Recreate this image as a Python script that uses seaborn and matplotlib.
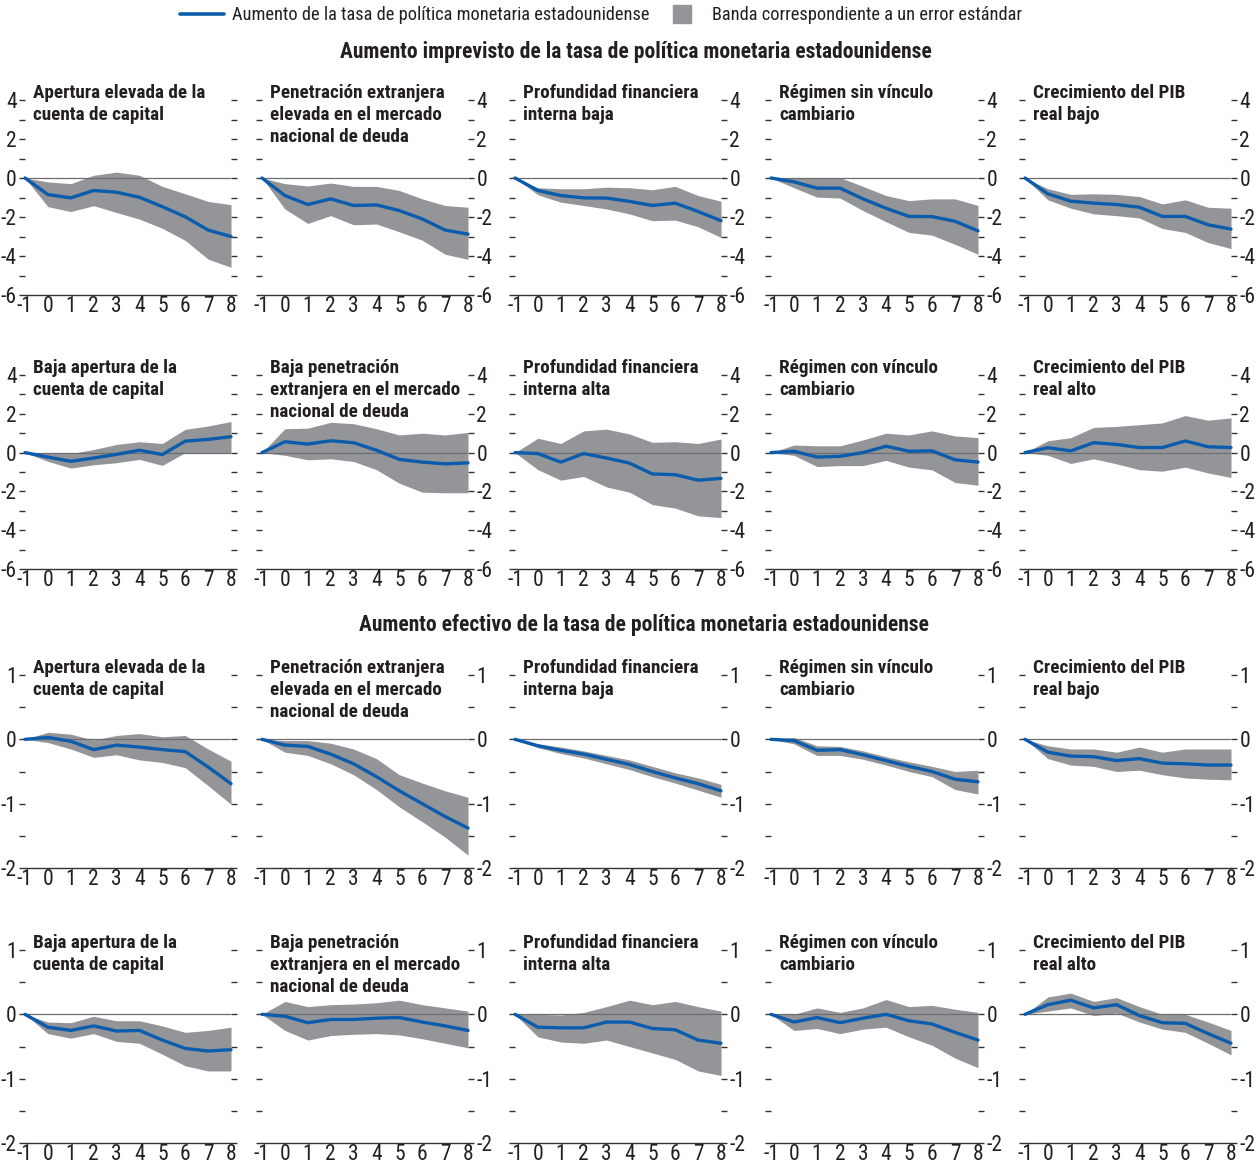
import numpy as np
import pandas as pd
import matplotlib
matplotlib.use("Agg")
import matplotlib.pyplot as plt
import matplotlib.font_manager as fm
import seaborn as sns
from matplotlib.lines import Line2D

sns.set_style("white")

# buscar una fuente condensada disponible
names = {f.name for f in fm.fontManager.ttflist}
cond = {f.name for f in fm.fontManager.ttflist if f.stretch == "condensed"}
if "Liberation Sans Narrow" in names:
    plt.rcParams['font.family'] = ['Liberation Sans Narrow', 'DejaVu Sans']
elif "Roboto Condensed" in names:
    plt.rcParams['font.family'] = ['Roboto Condensed', 'DejaVu Sans']
elif "DejaVu Sans" in cond:
    plt.rcParams['font.family'] = ['DejaVu Sans']
    plt.rcParams['font.stretch'] = 'condensed'
else:
    plt.rcParams['font.family'] = ['Liberation Sans', 'DejaVu Sans']
plt.rcParams['axes.unicode_minus'] = False

# Horizonte (trimestres)
horizons = list(range(-1, 9))

titles_top = ["Apertura elevada de la\ncuenta de capital",
              "Penetración extranjera\nelevada en el mercado\nnacional de deuda",
              "Profundidad financiera\ninterna baja",
              "Régimen sin vínculo\ncambiario",
              "Crecimiento del PIB\nreal bajo"]
titles_bottom = ["Baja apertura de la\ncuenta de capital",
                 "Baja penetración\nextranjera en el mercado\nnacional de deuda",
                 "Profundidad financiera\ninterna alta",
                 "Régimen con vínculo\ncambiario",
                 "Crecimiento del PIB\nreal alto"]

section_titles = ["Aumento imprevisto de la tasa de política monetaria estadounidense",
                  "Aumento efectivo de la tasa de política monetaria estadounidense"]

# Fila 1: aumento imprevisto, grupo 1
r1_irf = [[0, -0.85, -1.02, -0.64, -0.73, -0.99, -1.47, -1.99, -2.67, -3.0],
          [0, -0.9, -1.36, -1.07, -1.41, -1.38, -1.67, -2.1, -2.67, -2.88],
          [0, -0.64, -0.9, -1.02, -1.03, -1.2, -1.41, -1.29, -1.72, -2.19],
          [0, -0.2, -0.52, -0.52, -1.07, -1.55, -1.97, -1.98, -2.22, -2.71],
          [0, -0.81, -1.19, -1.29, -1.36, -1.5, -1.97, -1.97, -2.4, -2.62]]
r1_up = [[0, -0.2, -0.29, 0.14, 0.3, 0.14, -0.43, -0.81, -1.2, -1.37],
         [0, -0.29, -0.41, -0.26, -0.43, -0.43, -0.64, -1.07, -1.41, -1.5],
         [0, -0.5, -0.55, -0.55, -0.47, -0.5, -0.6, -0.43, -0.9, -1.19],
         [0, 0.0, 0.0, 0.02, -0.43, -0.9, -1.16, -1.07, -1.07, -1.41],
         [0, -0.55, -0.84, -0.81, -0.84, -0.95, -1.33, -1.12, -1.5, -1.55]]
r1_lo = [[0, -1.47, -1.72, -1.42, -1.77, -2.11, -2.58, -3.2, -4.16, -4.58],
         [0, -1.59, -2.33, -1.93, -2.4, -2.36, -2.76, -3.19, -3.91, -4.17],
         [0, -0.86, -1.24, -1.41, -1.59, -1.84, -2.19, -2.16, -2.5, -3.05],
         [0, -0.5, -0.98, -1.03, -1.67, -2.24, -2.79, -2.93, -3.4, -3.91],
         [0, -1.12, -1.55, -1.84, -1.93, -2.05, -2.59, -2.79, -3.31, -3.62]]

# Fila 2: aumento imprevisto, grupo 2
r2_irf = [[0, -0.23, -0.45, -0.28, -0.09, 0.12, -0.1, 0.59, 0.68, 0.82],
          [0, 0.56, 0.44, 0.61, 0.51, 0.12, -0.35, -0.49, -0.58, -0.53],
          [0, -0.05, -0.49, -0.05, -0.28, -0.54, -1.1, -1.14, -1.42, -1.33],
          [0, 0.07, -0.23, -0.19, 0.0, 0.33, 0.07, 0.09, -0.37, -0.49],
          [0, 0.25, 0.09, 0.51, 0.42, 0.26, 0.26, 0.6, 0.3, 0.26]]
r2_up = [[0, 0.0, -0.05, 0.16, 0.42, 0.56, 0.47, 1.2, 1.37, 1.6],
         [0, 1.23, 1.26, 1.56, 1.49, 1.23, 0.91, 1.0, 0.91, 1.04],
         [0, 0.74, 0.47, 1.12, 1.21, 0.96, 0.53, 0.56, 0.47, 0.7],
         [0, 0.39, 0.35, 0.35, 0.65, 1.0, 0.91, 1.12, 0.86, 0.77],
         [0, 0.61, 0.77, 1.3, 1.35, 1.44, 1.53, 1.91, 1.67, 1.79]]
r2_lo = [[0, -0.45, -0.8, -0.63, -0.52, -0.35, -0.66, 0.0, -0.03, 0.0],
         [0, -0.14, -0.37, -0.32, -0.46, -0.88, -1.58, -2.04, -2.07, -2.07],
         [0, -0.88, -1.42, -1.23, -1.77, -2.04, -2.68, -2.86, -3.26, -3.35],
         [0, -0.14, -0.72, -0.67, -0.67, -0.4, -0.75, -0.89, -1.54, -1.68],
         [0, -0.14, -0.56, -0.32, -0.58, -0.88, -0.96, -0.75, -1.05, -1.28]]

# Fila 3: aumento efectivo, grupo 1
r3_irf = [[0, 0.03, -0.03, -0.16, -0.09, -0.12, -0.16, -0.19, -0.43, -0.69],
          [0, -0.09, -0.11, -0.23, -0.38, -0.58, -0.8, -1.0, -1.2, -1.38],
          [0, -0.1, -0.17, -0.23, -0.31, -0.39, -0.5, -0.6, -0.69, -0.8],
          [0, -0.02, -0.17, -0.16, -0.24, -0.33, -0.42, -0.5, -0.62, -0.66],
          [0, -0.2, -0.26, -0.27, -0.33, -0.3, -0.37, -0.38, -0.4, -0.4]]
r3_up = [[0, 0.11, 0.08, -0.01, 0.06, 0.09, 0.04, 0.06, -0.15, -0.34],
         [0, -0.02, -0.02, -0.06, -0.15, -0.3, -0.55, -0.68, -0.8, -0.9],
         [0, -0.07, -0.12, -0.18, -0.25, -0.32, -0.42, -0.52, -0.6, -0.7],
         [0, 0.03, -0.1, -0.11, -0.18, -0.27, -0.35, -0.42, -0.5, -0.48],
         [0, -0.1, -0.15, -0.15, -0.2, -0.12, -0.2, -0.15, -0.15, -0.15]]
r3_lo = [[0, -0.05, -0.15, -0.28, -0.24, -0.32, -0.36, -0.44, -0.72, -1.01],
         [0, -0.2, -0.25, -0.38, -0.55, -0.78, -1.05, -1.28, -1.52, -1.8],
         [0, -0.13, -0.22, -0.29, -0.38, -0.47, -0.58, -0.68, -0.79, -0.9],
         [0, -0.07, -0.25, -0.25, -0.31, -0.4, -0.5, -0.58, -0.78, -0.85],
         [0, -0.3, -0.4, -0.42, -0.5, -0.48, -0.55, -0.6, -0.62, -0.63]]

# Fila 4: aumento efectivo, grupo 2
r4_irf = [[0, -0.2, -0.25, -0.18, -0.26, -0.25, -0.4, -0.53, -0.57, -0.55],
          [0, -0.03, -0.13, -0.08, -0.08, -0.06, -0.05, -0.12, -0.18, -0.25],
          [0, -0.2, -0.21, -0.21, -0.12, -0.12, -0.22, -0.24, -0.4, -0.45],
          [0, -0.12, -0.05, -0.13, -0.06, 0.0, -0.1, -0.15, -0.28, -0.4],
          [0, 0.15, 0.22, 0.1, 0.15, -0.02, -0.13, -0.14, -0.3, -0.45]]
r4_up = [[0, -0.12, -0.13, -0.03, -0.1, -0.1, -0.18, -0.28, -0.25, -0.2],
         [0, 0.2, 0.12, 0.15, 0.16, 0.18, 0.22, 0.15, 0.1, 0.05],
         [0, 0.0, -0.01, 0.03, 0.12, 0.22, 0.15, 0.2, 0.12, 0.05],
         [0, 0.0, 0.1, 0.03, 0.1, 0.23, 0.12, 0.14, 0.08, 0.03],
         [0, 0.27, 0.33, 0.2, 0.26, 0.12, 0.0, 0.0, -0.12, -0.25]]
r4_lo = [[0, -0.3, -0.37, -0.3, -0.42, -0.45, -0.62, -0.8, -0.88, -0.88],
         [0, -0.25, -0.4, -0.33, -0.31, -0.3, -0.32, -0.38, -0.45, -0.52],
         [0, -0.35, -0.43, -0.45, -0.4, -0.5, -0.6, -0.7, -0.88, -0.95],
         [0, -0.25, -0.22, -0.3, -0.23, -0.2, -0.35, -0.48, -0.68, -0.83],
         [0, 0.05, 0.1, -0.02, 0.02, -0.12, -0.23, -0.28, -0.45, -0.63]]

legend_labels = ["Aumento de la tasa de política monetaria estadounidense",
                 "Banda correspondiente a un error estándar"]

blue = "#0b5cad"
band = "#939598"
ink = "#231f20"

W, H = 1258, 1164
fig = plt.figure(figsize=(W / 100, H / 100), dpi=100)

col_px = [(25, 231), (262, 468), (515, 721), (771, 978), (1025, 1231)]
row_px = [(100, 295), (375, 569), (675, 868), (950, 1143)]

rows = [(r1_irf, r1_up, r1_lo, titles_top, (-6, 4), 2),
        (r2_irf, r2_up, r2_lo, titles_bottom, (-6, 4), 2),
        (r3_irf, r3_up, r3_lo, titles_top, (-2, 1), 1),
        (r4_irf, r4_up, r4_lo, titles_bottom, (-2, 1), 1)]

for ri, (irf, up, lo, titles, ylim, step) in enumerate(rows):
    y0, y1 = row_px[ri]
    for ci in range(5):
        x0, x1 = col_px[ci]
        ax = fig.add_axes([x0 / W, 1 - y1 / H, (x1 - x0) / W, (y1 - y0) / H])
        df = pd.DataFrame({"h": horizons, "irf": irf[ci], "up": up[ci], "lo": lo[ci]})
        ax.fill_between(df["h"], df["lo"], df["up"], color=band, lw=0, zorder=1)
        ax.axhline(0, color="#6d6e71", lw=0.9, zorder=2)
        sns.lineplot(data=df, x="h", y="irf", ax=ax, color=blue, lw=2.4,
                     zorder=3, clip_on=False)
        ax.set_xlim(-1, 8)
        ax.set_ylim(*ylim)
        ax.set_xlabel("")
        ax.set_ylabel("")
        ax.set_xticks(horizons)
        major = np.arange(ylim[0], ylim[1] + 0.01, step)
        ax.set_yticks(major)
        ax.set_yticks(np.arange(ylim[0], ylim[1] + 0.01, step / 2), minor=True)
        ax.set_yticklabels([f"{v:g}" for v in major])
        for s in ["top", "left", "right"]:
            ax.spines[s].set_visible(False)
        ax.spines["bottom"].set_color("#333333")
        ax.spines["bottom"].set_linewidth(1.0)
        ax.tick_params(axis="x", direction="in", length=6, width=1.0,
                       color="#333333", labelsize=15.5, pad=0.5, labelcolor=ink)
        ax.tick_params(axis="y", which="both", direction="out", length=4, width=1.0,
                       color="#333333", left=True, right=True, labelsize=15.5, pad=2,
                       labelcolor=ink)
        if ci == 0:
            ax.tick_params(axis="y", labelleft=True, labelright=False)
        else:
            ax.tick_params(axis="y", labelleft=False, labelright=True)
        fig.text((x0 + 8) / W, 1 - (y0 - 16) / H, titles[ci], ha="left", va="top",
                 fontsize=13.8, fontweight="bold", color=ink, linespacing=1.3)

fig.text(636 / W, 1 - 52 / H, section_titles[0], ha="center", va="center",
         fontsize=15.5, fontweight="bold", color=ink)
fig.text(644 / W, 1 - 625 / H, section_titles[1], ha="center", va="center",
         fontsize=15.5, fontweight="bold", color=ink)

handles = [Line2D([0], [0], color=blue, lw=2.6),
           Line2D([0], [0], color=band, marker="s", markersize=13, linestyle="none")]
fig.legend(handles, legend_labels, loc="center", bbox_to_anchor=(601 / W, 1 - 15 / H),
           ncol=2, frameon=False, fontsize=13.2, handlelength=2.4, columnspacing=0.6,
           handletextpad=0.4, labelcolor=ink)

fig.savefig("out.png", dpi=100)
